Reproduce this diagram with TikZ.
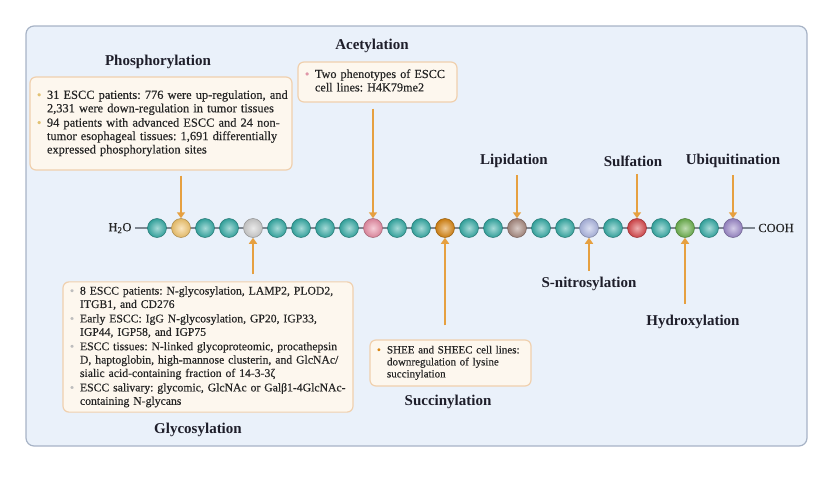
\documentclass[tikz,border=0pt]{standalone}
\usepackage{fontspec}
\setmainfont{Liberation Serif}
\newfontfamily\boxserif[FakeBold=0.3]{Liberation Serif}
\usepackage{tikz}
\usetikzlibrary{arrows.meta,positioning,shadings}
\definecolor{panelfill}{HTML}{EAF1FA}
\definecolor{panelline}{HTML}{A7B3C6}
\definecolor{boxfill}{HTML}{FDF7EE}
\definecolor{boxline}{HTML}{F0D0AE}
\definecolor{arrowcol}{HTML}{E6A040}
\definecolor{titlecol}{HTML}{1E1E2A}
\definecolor{textcol}{HTML}{242424}
\definecolor{chaincol}{HTML}{7F8791}
\definecolor{bteal}{HTML}{36ACA6}
\definecolor{byellow}{HTML}{F3C66E}
\definecolor{bgrey}{HTML}{CFCFCF}
\definecolor{bpink}{HTML}{E98DA5}
\definecolor{borange}{HTML}{D98613}
\definecolor{bbrown}{HTML}{A88A80}
\definecolor{blav}{HTML}{AEB8E3}
\definecolor{bred}{HTML}{D9484C}
\definecolor{bgreen}{HTML}{6DB24F}
\definecolor{bpurple}{HTML}{9C89CA}
\definecolor{dotphos}{HTML}{E2C274}
\definecolor{dotacet}{HTML}{E096A8}
\definecolor{dotglyc}{HTML}{BEBEBE}
\newcommand{\pitem}[2]{\makebox[10pt][l]{\textcolor{#1}{\textbullet}}%
    \begin{tabular}[t]{@{}l@{}}#2\end{tabular}}

\tikzset{
    bead/.style={circle, minimum size=19pt, inner sep=0pt,
        inner color=#1!45!white, outer color=#1!92!black, draw=#1!70!black, line width=0.5pt},
    ptm/.style={font=\fontsize{15}{17}\selectfont\bfseries, text=titlecol},
    infobox/.style={draw=boxline, fill=boxfill, rounded corners=6pt, line width=1.2pt,
        align=left, inner xsep=7pt, text=textcol},
    boxfont/.style={font=\boxserif\fontsize{#1}{13.4}\selectfont\frenchspacing},
    ptmarrow/.style={draw=arrowcol, line width=1.5pt, -{Triangle[width=8pt,length=6pt]}},
    chainend/.style={font=\boxserif\fontsize{12.5}{14}\selectfont, text=textcol}
}

\begin{document}
\begin{tikzpicture}[x=1pt, y=-1pt]
        \useasboundingbox (0, 0) rectangle (831, 479);
        \draw[draw=panelline, fill=panelfill, line width=1.2pt, rounded corners=8pt]
        (26, 26) rectangle (807, 446);

        \node[chainend] (h2o) at (120, 228) {H\textsubscript{2}O};
        \node[chainend] (cooh) at (776, 228) {COOH};
        \draw[chaincol, line width=1.2pt]
        (h2o) -- (cooh);

        \foreach \c [count=\i] in {bteal, byellow, bteal, bteal, bgrey, bteal, bteal, bteal,
            bteal, bpink, bteal, bteal, borange, bteal, bteal, bbrown, bteal, bteal, blav,
            bteal, bred, bteal, bgreen, bteal, bpurple}
            \node[bead=\c] (b\i) at ({157+24*(\i-1)}, 228) {};

        % boxes above the chain
        \node[infobox, boxfont=12.4, text width=248pt, minimum height=93pt] (phosbox) at (161, 123.5)
        {\pitem{dotphos}{31 ESCC patients: 776 were up-regulation, and\\
            2,331 were down-regulation in tumor tissues}\\
         \pitem{dotphos}{94 patients with advanced ESCC and 24 non-\\
            tumor esophageal tissues: 1,691 differentially\\
            expressed phosphorylation sites}};
        \node[ptm] (phos) at (158, 62) {Phosphorylation};

        \node[infobox, boxfont=12.2, text width=145pt, minimum height=40pt] (acetbox) at (377.5, 82)
        {\pitem{dotacet}{Two phenotypes of ESCC\\ cell lines: H4K79me2}};
        \node[ptm] (acet) at (372, 46) {Acetylation};

        \node[ptm] (lipid) at (514, 161) {Lipidation};
        \node[ptm] (sulf) at (633, 161) {Sulfation};
        \node[ptm] (ubiq) at (733, 161) {Ubiquitination};

        % boxes below the chain
        \node[infobox, boxfont=11.7, text width=276pt, minimum height=130pt] (glycbox) at (208, 347)
        {\pitem{dotglyc}{8 ESCC patients: N-glycosylation, LAMP2, PLOD2,\\
            ITGB1, and CD276}\\
         \pitem{dotglyc}{Early ESCC: IgG N-glycosylation, GP20, IGP33,\\
            IGP44, IGP58, and IGP75}\\
         \pitem{dotglyc}{ESCC tissues: N-linked glycoproteomic, procathepsin\\
            D, haptoglobin, high-mannose clusterin, and GlcNAc/\\
            sialic acid-containing fraction of 14-3-3ζ}\\
         \pitem{dotglyc}{ESCC salivary: glycomic, GlcNAc or Galβ1-4GlcNAc-\\
            containing N-glycans}};
        \node[ptm] (glyc) at (198, 430) {Glycosylation};

        \node[infobox, font=\boxserif\fontsize{11}{12}\selectfont\frenchspacing,
            text width=147pt, minimum height=46pt] (succbox) at (450.5, 363)
        {\pitem{borange}{SHEE and SHEEC cell lines:\\
            downregulation of lysine\\ succinylation}};
        \node[ptm] (succ) at (448, 402) {Succinylation};

        \node[ptm] (snit) at (589, 284) {S-nitrosylation};
        \node[ptm] (hydrox) at (693, 322) {Hydroxylation};

        \draw[ptmarrow, shorten <=5pt]
        (phosbox.south -| b2) to (b2.north);
        \draw[ptmarrow, shorten <=6pt]
        (acetbox.south -| b10) to (b10.north);
        \draw[ptmarrow, shorten <=4pt]
        (lipid.south -| b16) to (b16.north);
        \draw[ptmarrow, shorten <=4pt]
        (sulf.south -| b21) to (b21.north);
        \draw[ptmarrow, shorten <=4pt]
        (ubiq.south -| b25) to (b25.north);
        \draw[ptmarrow, shorten <=7pt]
        (glycbox.north -| b5) to (b5.south);
        \draw[ptmarrow, shorten <=14pt]
        (succbox.north -| b13) to (b13.south);
        \draw[ptmarrow, shorten <=3pt]
        (snit.north -| b19) to (b19.south);
        \draw[ptmarrow, shorten <=8pt]
        (hydrox.north -| b23) to (b23.south);
    \end{tikzpicture}
\end{document}
